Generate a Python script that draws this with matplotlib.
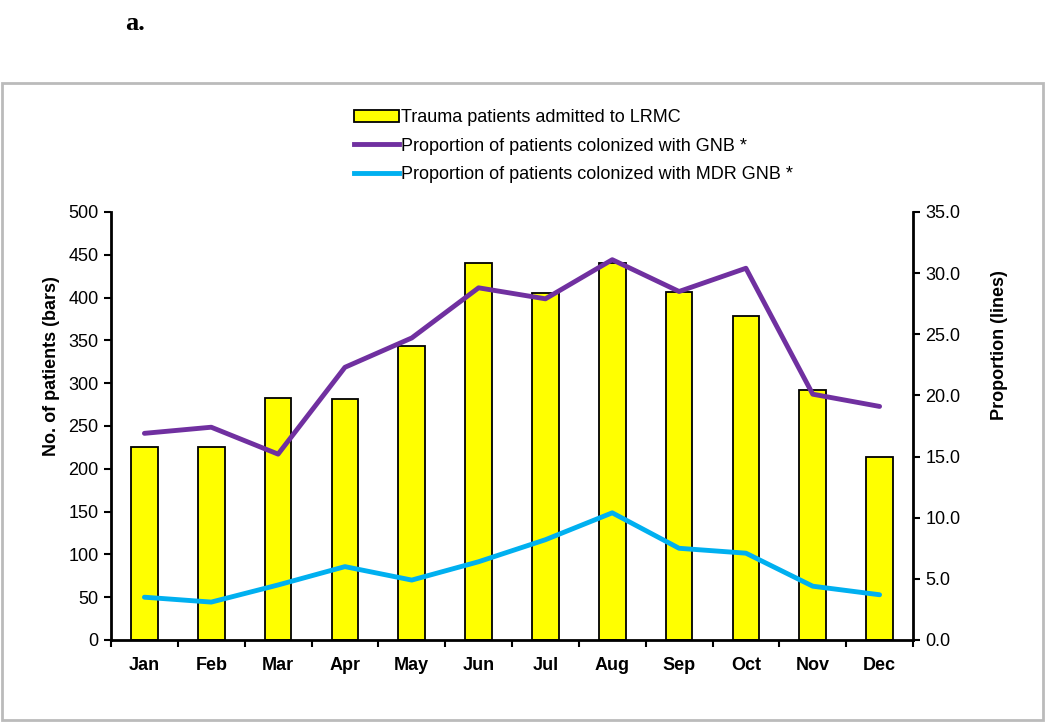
import matplotlib
matplotlib.use("Agg")
import matplotlib.pyplot as plt
from matplotlib.lines import Line2D
from matplotlib.patches import Patch, Rectangle
import numpy as np

months = ["Jan", "Feb", "Mar", "Apr", "May", "Jun", "Jul", "Aug", "Sep", "Oct", "Nov", "Dec"]
patients = [225, 225, 283, 282, 344, 441, 405, 440, 407, 379, 292, 214]
gnb = [16.9, 17.4, 15.2, 22.3, 24.7, 28.8, 27.9, 31.1, 28.5, 30.4, 20.1, 19.1]
mdr_gnb = [3.5, 3.1, 4.5, 6.0, 4.9, 6.4, 8.2, 10.4, 7.5, 7.1, 4.4, 3.7]

plt.rcParams['font.family'] = ['Liberation Sans', 'DejaVu Sans']

fig = plt.figure(figsize=(10.5, 7.23), dpi=100)
W, H = 1050, 723
ax = fig.add_axes([111 / W, 1 - 640 / H, (913 - 111) / W, (640 - 212) / H])
ax2 = ax.twinx()

x = np.arange(len(months))
ax.bar(x, patients, width=0.4, color="#FFFF00", edgecolor="black", linewidth=1.3, zorder=2)
ax2.plot(x, gnb, color="#7030A0", linewidth=3.5, solid_capstyle="round", zorder=3)
ax2.plot(x, mdr_gnb, color="#00B0F0", linewidth=3.5, solid_capstyle="round", zorder=3)

ax.set_xlim(-0.5, len(months) - 0.5)
ax.set_ylim(0, 500)
ax.set_yticks(range(0, 501, 50))
ax2.set_ylim(0, 35)
ax2.set_yticks(np.arange(0, 35.1, 5))
ax2.set_yticklabels([f"{v:.1f}" for v in np.arange(0, 35.1, 5)])

ax.set_xticks(x)
ax.set_xticklabels(months, fontweight="bold", fontsize=13)
ax.set_xticks(np.arange(-0.5, len(months)), minor=True)
ax.tick_params(axis="x", which="major", length=0, pad=12)
ax.tick_params(axis="x", which="minor", length=5, width=1.5, direction="out")
ax.tick_params(axis="y", length=5, width=1.5, direction="out", labelsize=13, pad=4)
ax2.tick_params(axis="y", length=5, width=1.5, direction="out", labelsize=13, pad=4)

for a in (ax, ax2):
    a.spines["top"].set_visible(False)
    for s in ("left", "right", "bottom"):
        a.spines[s].set_linewidth(2)
ax.spines["right"].set_visible(False)
ax2.spines["left"].set_visible(False)
ax2.spines["bottom"].set_visible(False)

ax.set_ylabel("No. of patients (bars)", fontweight="bold", fontsize=13)
ax2.set_ylabel("Proportion (lines)", fontweight="bold", fontsize=13)
ax.yaxis.set_label_coords(-0.064, 0.64)
ax2.yaxis.set_label_coords(1.0975, 0.69)

ax.set_zorder(ax2.get_zorder() - 1)
ax.patch.set_visible(True)
ax2.patch.set_visible(False)

handles = [
    Patch(facecolor="#FFFF00", edgecolor="black", linewidth=1.3),
    Line2D([0], [0], color="#7030A0", linewidth=3.5),
    Line2D([0], [0], color="#00B0F0", linewidth=3.5),
]
labels = [
    "Trauma patients admitted to LRMC",
    "Proportion of patients colonized with GNB *",
    "Proportion of patients colonized with MDR GNB *",
]
fig.legend(handles, labels, loc="upper left", bbox_to_anchor=(347 / W, 1 - 102 / H),
           frameon=False, fontsize=13, handlelength=2.5, handletextpad=0.1,
           labelspacing=0.63, borderaxespad=0)

fig.patches.append(Rectangle((2 / W, 1 - 720 / H), (1043 - 2) / W, (720 - 83) / H,
                             transform=fig.transFigure, fill=False,
                             edgecolor="#BBBBBB", linewidth=2))

fig.text(125 / W, 1 - 24 / H, "a.", fontsize=19, fontweight="bold",
         family=["Liberation Serif", "DejaVu Serif"], va="center")

fig.savefig("out.png", dpi=100)
